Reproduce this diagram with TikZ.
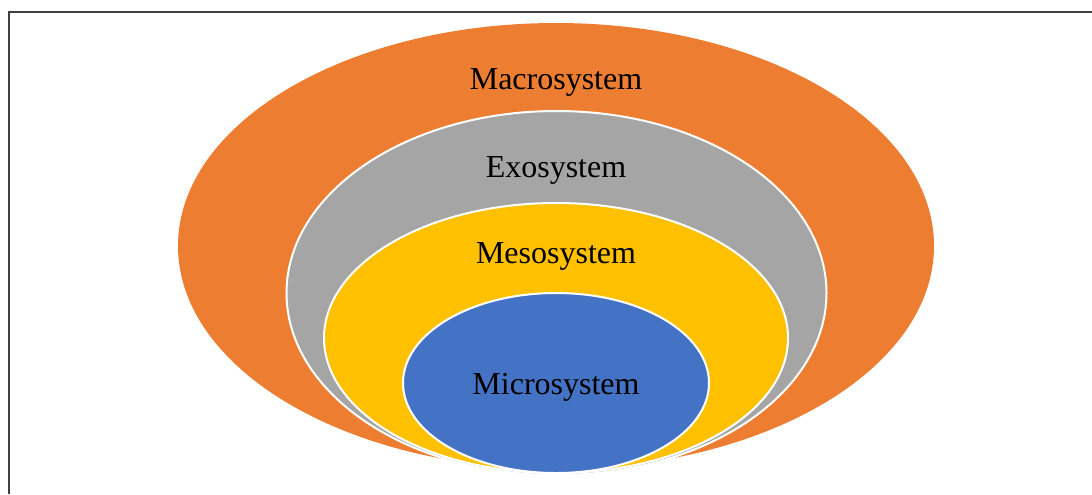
\documentclass[tikz,border=0pt]{standalone}
\usepackage{fontspec}
\setmainfont{Liberation Serif}
\usetikzlibrary{shapes.geometric}

\definecolor{macrocol}{HTML}{ED7D31}
\definecolor{exocol}{HTML}{A5A5A5}
\definecolor{mesocol}{HTML}{FFC000}
\definecolor{microcol}{HTML}{4472C4}

\begin{document}
\begin{tikzpicture}[
        x=0.5pt, y=-0.5pt,
        ring/.style={ellipse, inner sep=0pt, draw=white, line width=1pt},
        lbl/.style={anchor=base, inner sep=0pt, font=\fontsize{16}{19}\selectfont},
    ]
    \useasboundingbox (0,0) rectangle (1092,494);
    \draw[black!75, line width=0.7pt] (9,494) -- (9,12) -- (1092,12);

    \node[ring, draw=none, fill=macrocol, minimum width=378pt, minimum height=223pt](macro) at (556,246) {};
    \node[ring, fill=exocol, minimum width=270pt, minimum height=182pt](exo) at (556.5,293) {};
    \node[ring, fill=mesocol, minimum width=232pt, minimum height=135pt](meso) at (556,338) {};
    \node[ring, fill=microcol, minimum width=153pt, minimum height=90pt](micro) at (556,383) {};

    \node[lbl](macrotext) at (556,89) {Macrosystem};
    \node[lbl](exotext) at (556,177) {Exosystem};
    \node[lbl](mesotext) at (556,263) {Mesosystem};
    \node[lbl](microtext) at (556,394) {Microsystem};
\end{tikzpicture}
\end{document}
